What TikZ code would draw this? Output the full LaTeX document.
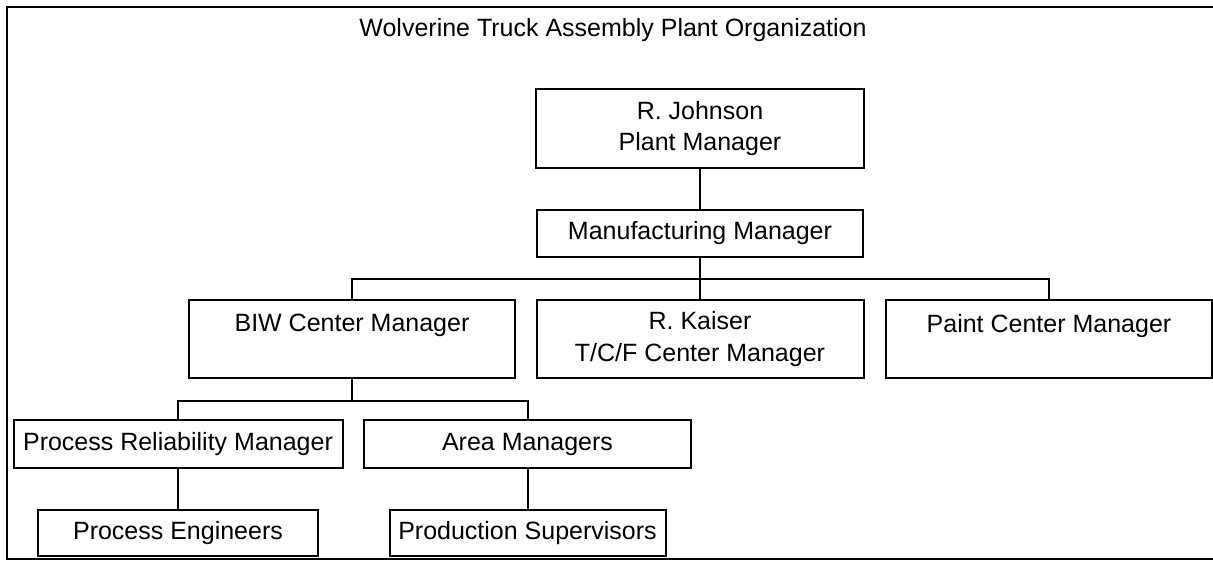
\documentclass[tikz,border=0pt]{standalone}
\usepackage{fontspec}
\setmainfont{Liberation Sans}
\begin{document}
\begin{tikzpicture}[x=1pt,y=-1pt,
  every node/.style={font=\fontsize{25}{31.5}\selectfont},
  orgbox/.style={draw,line width=2pt,inner sep=0pt,outer sep=0pt,align=center},
  link/.style={line width=2pt}]
  \useasboundingbox (0,0) rectangle (1213,561);

  % open outer frame
  \draw[line width=2pt] (1213,7) -- (7,7) -- (7,559) -- (1213,559);

  \node[anchor=base] (title) at (613,37) {Wolverine Truck Assembly Plant Organization};

  % boxes
  \node[orgbox,minimum width=328pt,minimum height=79pt] (johnson) at (700,128.5) {R. Johnson\\Plant Manager};
  \node[orgbox,minimum width=326pt,minimum height=47pt] (mfg) at (700,233.5) {Manufacturing Manager};
  \node[orgbox,minimum width=326pt,minimum height=78pt] (biw) at (352,339) {BIW Center Manager\\\mbox{}};
  \node[orgbox,minimum width=327pt,minimum height=78pt] (kaiser) at (700,339) {R. Kaiser\\T/C/F Center Manager};
  \node[orgbox,minimum width=326pt,minimum height=78pt] (paint) at (1049,339) {Paint Center Manager\\\mbox{}};
  \node[orgbox,minimum width=329pt,minimum height=48pt] (prm) at (178,444) {Process Reliability Manager};
  \node[orgbox,minimum width=327pt,minimum height=48pt] (area) at (527.5,444) {Area Managers};
  \node[orgbox,minimum width=280pt,minimum height=46pt] (pe) at (178,533) {Process Engineers};
  \node[orgbox,minimum width=276pt,minimum height=46pt] (ps) at (527.5,533) {Production Supervisors};

  % bus junctions
  \coordinate (bus1) at (700,279);
  \coordinate (bus2) at (352,401);

  % connectors
  \draw[link] (johnson.south) -- (mfg.north);
  \draw[link] (mfg.south) -- (bus1);
  \draw[link] (biw.north) |- (bus1) -| (paint.north);
  \draw[link] (bus1) -- (kaiser.north);
  \draw[link] (biw.south) -- (bus2);
  \draw[link] (prm.north) |- (bus2) -| (area.north);
  \draw[link] (prm.south) -- (pe.north);
  \draw[link] (area.south) -- (ps.north);
\end{tikzpicture}
\end{document}
